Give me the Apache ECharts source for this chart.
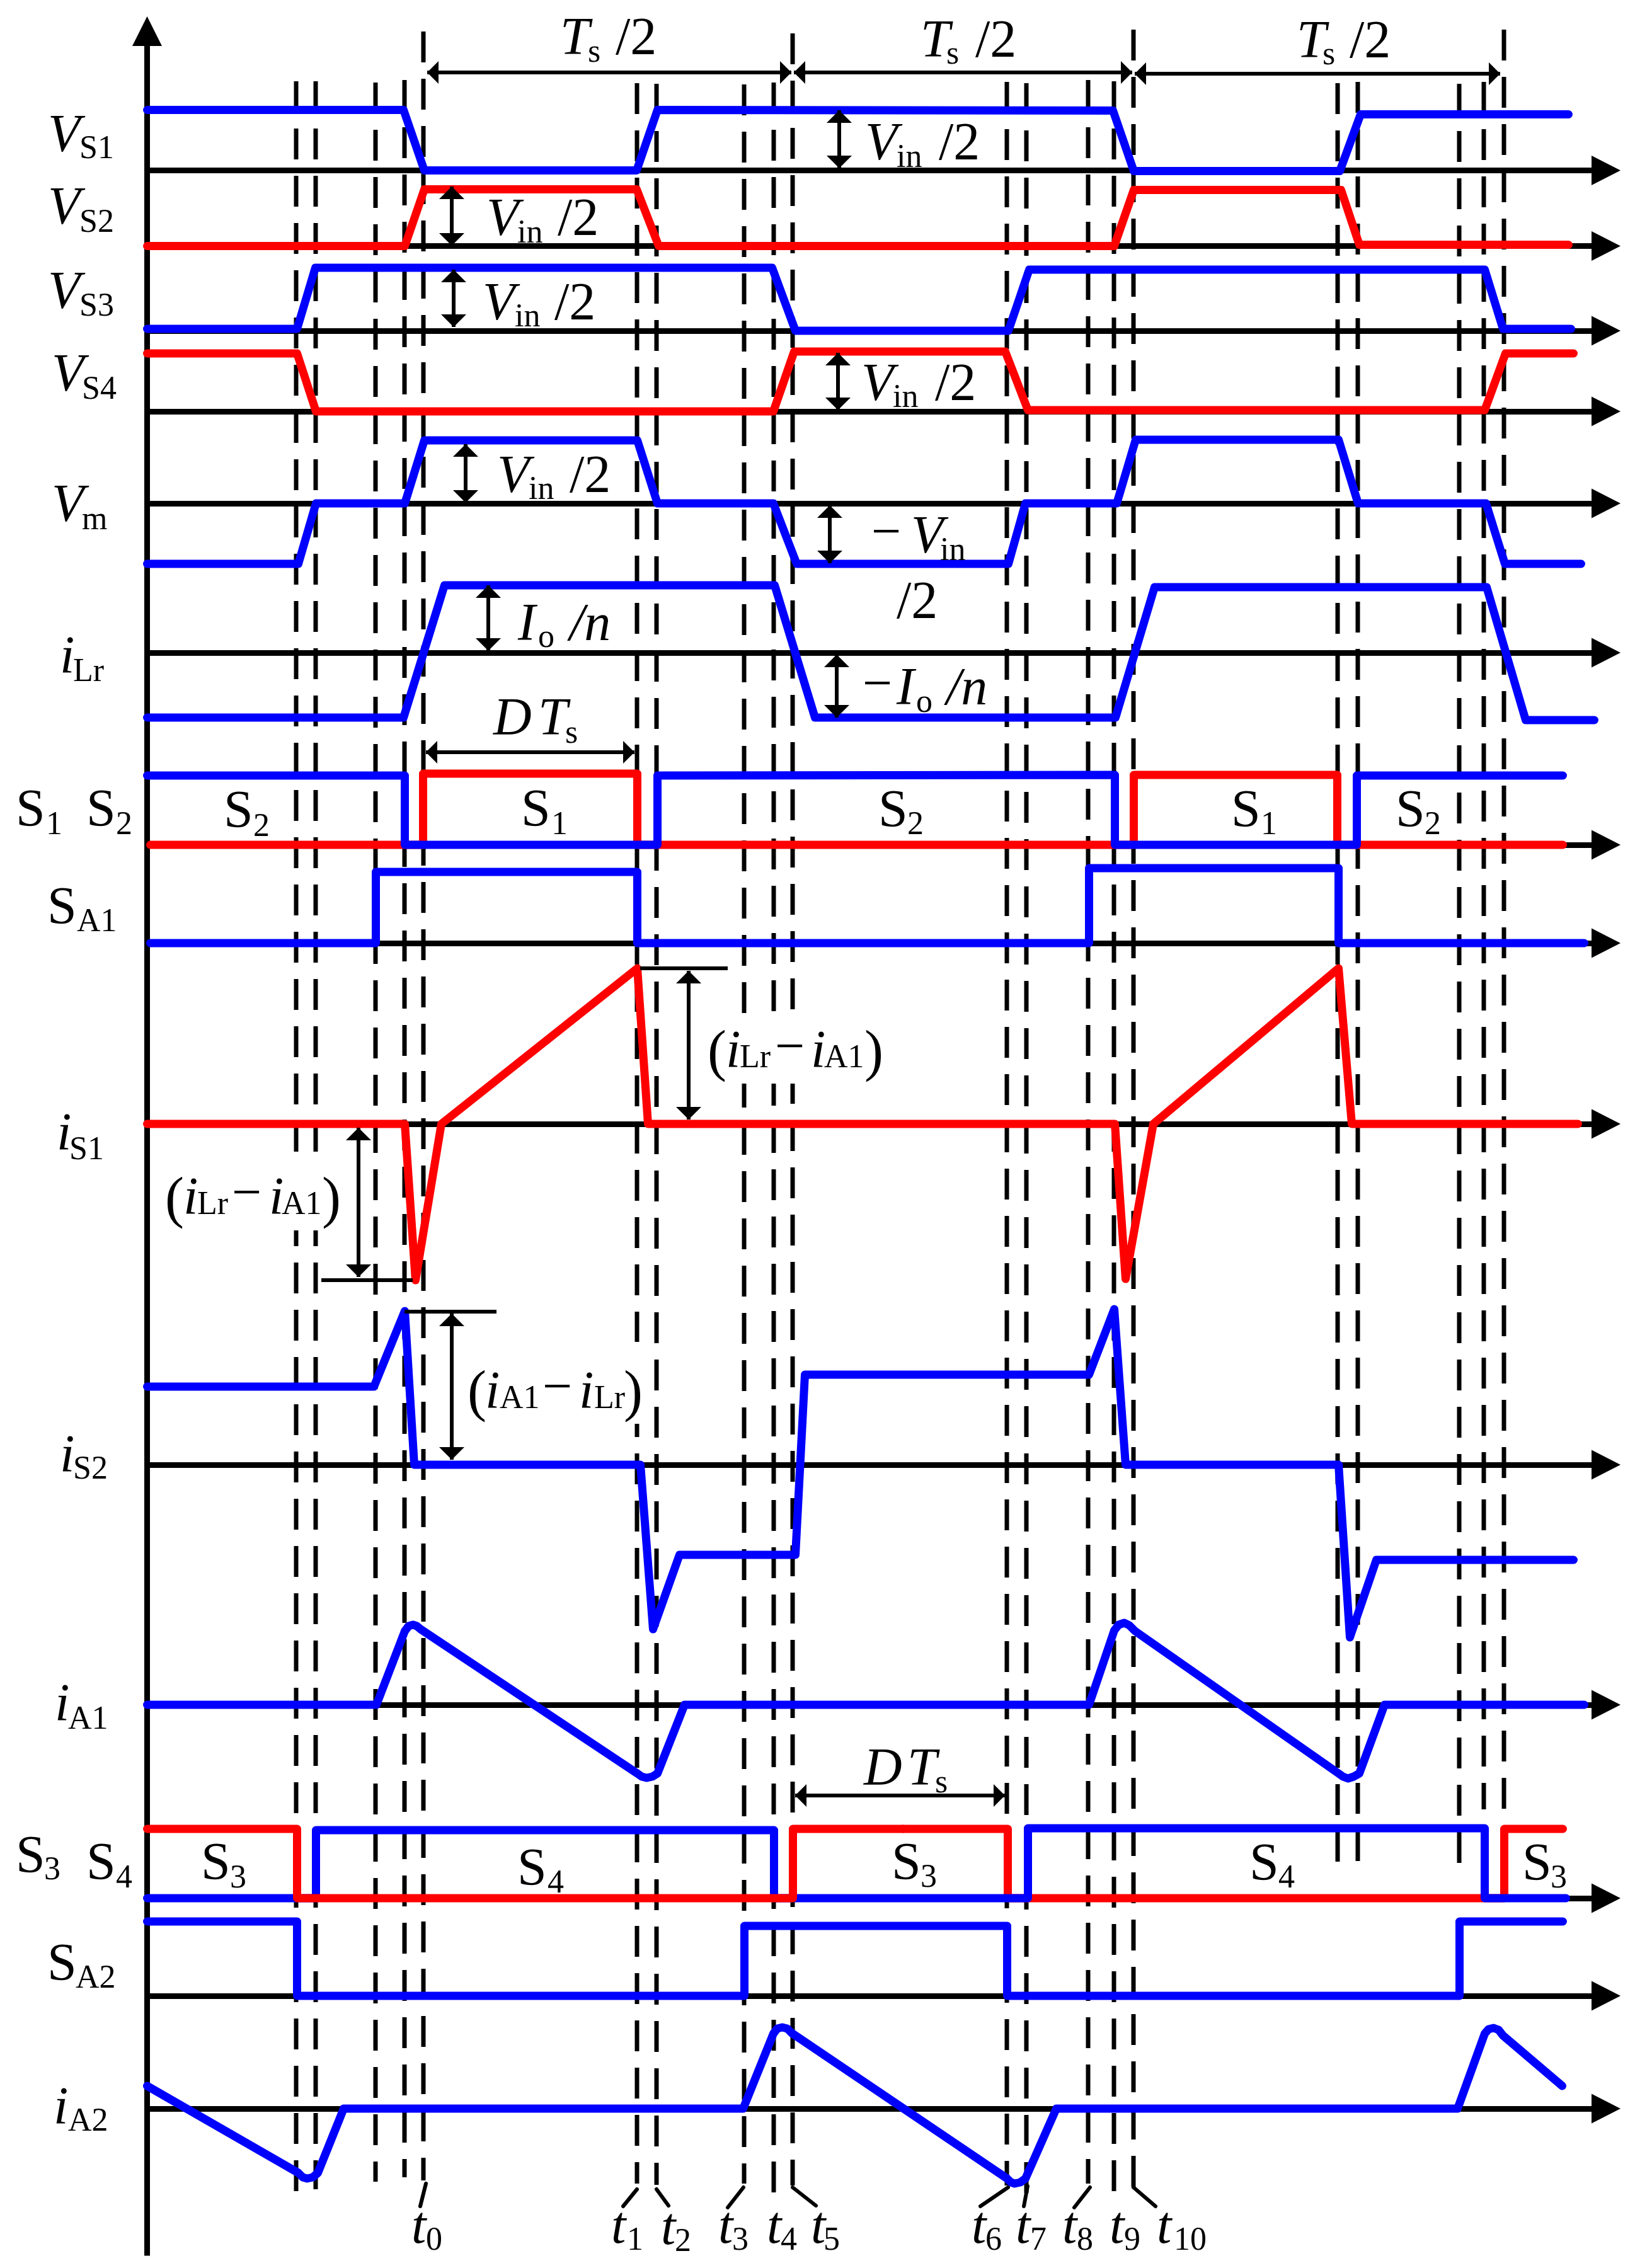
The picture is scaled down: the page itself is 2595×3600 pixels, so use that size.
<!DOCTYPE html>
<html><head><meta charset="utf-8">
<style>html,body{margin:0;padding:0;background:#fff}#c{width:2595px;height:3600px}</style>
<script src="https://cdn.jsdelivr.net/npm/echarts@6/dist/echarts.min.js"></script>
</head><body><div id="c"></div>
<script>
// ---- waveform values: [time, amplitude] ----
const vS1 = [[0,96],[407,96],[440,0],[777,0],[810,96],[1533,95],[1566,-1],[1893,-1],[1926,89],[2256,89]];
const vS2 = [[0,0],[409,0],[440,90],[777,90],[812,0],[1535,0],[1566,89],[1895,89],[1924,2],[2256,2]];
const vS3 = [[0,3],[238,3],[267,100],[992,100],[1029,0],[1367,0],[1400,97],[2123,97],[2152,3],[2260,3]];
const vS4 = [[0,92],[238,92],[268,0],[994,0],[1027,95],[1362,95],[1398,2],[2123,2],[2156,92],[2264,92]];
const vM = [[0,-96],[240,-96],[268,0],[409,0],[440,100],[778,100],[810,0],[994,0],[1031,-96],[1367,-96],[1394,0],[1539,0],[1569,101],[1891,101],[1922,0],[2125,0],[2155,-96],[2276,-96]];
const iLr = [[0,-103],[407,-103],[472,107],[996,107],[1060,-103],[1537,-103],[1599,104],[2126,104],[2188,-107],[2297,-107]];
const gateS1 = [[5,0],[438,0],[438,113],[778,113],[778,0],[1566,0],[1566,111],[1889,111],[1889,0],[2247,0]];
const gateS2 = [[0,110],[409,110],[409,0],[810,0],[810,110],[1536,111],[1536,0],[1920,0],[1920,110],[2247,110]];
const gateSA1 = [[5,0],[363,0],[363,113],[778,113],[778,0],[1495,0],[1495,119],[1891,119],[1891,0],[2281,0]];
const iS1 = [[0,0],[409,0],[426,-248],[467,0],[778,247],[795,0],[1536,0],[1553,-246],[1597,0],[1891,247],[1912,0],[2271,0]];
const iS2 = [[0,124],[360,124],[409,244],[424,0],[783,0],[803,-261],[845,-143],[1029,-143],[1044,143],[1495,143],[1535,247],[1553,0],[1891,0],[1909,-274],[1951,-151],[2264,-151]];
const iA1 = [[0,0],[364,0],[409,117],[415,125],[422,127],[428,125],[434,120],[778,-109],[785,-114],[793,-116],[802,-114],[810,-109],[853,0],[1495,0],[1535,118],[1542,127],[1551,130],[1559,126],[1568,117],[1891,-109],[1898,-114],[1906,-117],[1915,-114],[1924,-109],[1964,0],[2281,0]];
const gateS3Early = [[0,110],[238,110],[238,0],[1025,0],[1025,110],[1200,110]];
const gateS3Late = [[1200,110],[1366,110],[1366,0],[2154,0],[2154,110],[2247,110]];
const gateS4 = [[0,0],[268,0],[268,108],[995,108],[995,0],[1398,0],[1398,111],[2123,111],[2123,0],[2252,0]];
const gateSA2 = [[0,118],[238,118],[238,0],[948,0],[948,111],[1365,111],[1365,0],[2083,0],[2083,118],[2247,118]];
const iA2 = [[0,36],[240,-102],[247,-109],[254,-111],[263,-109],[271,-102],[312,0],[946,0],[994,119],[1000,127],[1008,129],[1016,127],[1023,120],[1365,-111],[1371,-117],[1377,-119],[1386,-117],[1394,-111],[1443,0],[2080,0],[2123,119],[2129,126],[2137,128],[2145,125],[2152,116],[2246,36]];

// ---- panel baselines on the sheet ----
const panelNames = ['VS1','VS2','VS3','VS4','Vm','iLr','S12','SA1','iS1','iS2','iA1','S34','SA2','iA2'];
const panelBaselines = [270.5,390.5,525,653,799,1036,1341,1497,1784,2325,2706,3013,3168,3347];

// ---- dashed time instants: [sheet x, top, bottom] ----
const instants = [[470,129,3478],[501,129,3475],[596,131,3463],[642,127,3456],[672,50,3461],[1011,132,3466],[1042,133,3468],[1181,134,3466],[1228,131,3504],[1258,53,3469],
 [1598,130,3469],[1629,132,3504],[1727,127,3466],[1768,129,3504],[1799,47,3472],[2123,132,2955],[2155,130,2954],[2316,133,2957],[2355,130,2872],[2387,47,2871]];
// ---- leader lines from instants to t labels: [x1,y1,x2,y2] ----
const leaders = [[676,3466,667,3502],[1011,3475,989,3502],[1042,3475,1061,3501],[1180,3472,1155,3504],[1258,3472,1295,3501],[1600,3472,1556,3502],[1631,3470,1625,3502],[1730,3472,1705,3504],[1799,3472,1834,3502]];
// ---- extent ticks: [x1,y,x2] ----
const extentTicks = [[1016,1537,1155],[510,2032,655],[642,2082,788]];
// ---- double arrows: [x1,y1,x2,y2] ----
const dimArrows = [[678,115,1256,115],[1260,115,1797,115],[1801,117,2381,117],[676,1194,1007,1194],[1262,2850,1595,2850],
 [717,296,717,390],[720,428,720,519],[739,705,739,798],[1332,175,1332,267],[1330,560,1330,651],[1317,802,1317,894],[775,929,775,1033],[1328,1039,1328,1139],
 [1093,1541,1093,1777],[569,1790,569,2027],[717,2085,717,2317]];
// ---- blank panels behind the bracketed formulas: [x1,y1,x2,y2] ----
const formulaBacks = [[1120,1608,1398,1720],[262,1828,535,1953],[740,2130,1016,2260]];

// ---- text runs: [text, style, sheet x, baseline y] ----
const texts = [
 ['V','i',76,241],['S1','s',126,252],['V','i',76,356],['S2','s',126,369],['V','i',76,490],['S3','s',126,502],['V','i',82,621],['S4','s',130,634],['V','i',82,828],['m','s',130,841],
 ['i','i',95,1069],['Lr','s',116,1082],['S','u',25,1312],['1','s',73,1325],['S','u',137,1312],['2','s',184,1325],['S','u',75,1467],['A1','s',122,1479],
 ['i','i',90,1826],['S1','s',110,1841],['i','i',95,2337],['S2','s',116,2348],['i','i',87,2732],['A1','s',108,2745],
 ['S','u',25,2973],['3','s',70,2984],['S','u',137,2984],['4','s',184,2997],['S','u',75,3144],['A2','s',120,3156],['i','i',85,3372],['A2','s',108,3383],
 ['S','u',355,1314],['2','s',402,1328],['S','u',827,1312],['1','s',875,1325],['S','u',1394,1313],['2','s',1440,1325],['S','u',1954,1313],['1','s',2001,1325],['S','u',2215,1313],['2','s',2261,1325],
 ['S','u',319,2984],['3','s',365,2997],['S','u',821,2993],['4','s',869,3005],['S','u',1415,2984],['3','s',1461,2996],['S','u',1983,2985],['4','s',2029,2997],['S','u',2416,2985],['3','s',2461,2997],
 ['T','i',889,87],['s','s',933,99],['/2','u',977,87],['T','i',1461,91],['s','s',1502,102],['/2','u',1548,91],['T','i',2058,92],['s','s',2099,103],['/2','u',2142,92],
 ['V','i',772,374],['in','s',821,386],['/2','u',885,374],['V','i',766,508],['in','s',817,519],['/2','u',880,508],['V','i',789,782],['in','s',839,793],['/2','u',904,782],
 ['V','i',1373,254],['in','s',1423,266],['/2','u',1490,254],['V','i',1367,636],['in','s',1417,647],['/2','u',1484,636],
 ['\u2212','u',1383,872],['V','i',1446,878],['in','s',1492,890],['/2','u',1423,982],
 ['I','i',822,1017],['o','s',854,1028],['/n','i',904,1017],['\u2212','u',1369,1113],['I','i',1423,1119],['o','s',1454,1131],['/n','i',1502,1119],
 ['D','i',783,1167],['T','i',854,1167],['s','s',897,1180],['D','i',1371,2834],['T','i',1440,2834],['s','s',1484,2846],
 ['(','p',1123,1699],['i','i',1152,1695],['Lr','s',1174,1695],['\u2212','u',1230,1689],['i','i',1287,1695],['A1','s',1308,1695],[')','p',1372,1699],
 ['(','p',262,1932],['i','i',291,1928],['Lr','s',313,1928],['\u2212','u',368,1921],['i','i',427,1928],['A1','s',447,1928],[')','p',511,1932],
 ['(','p',742,2239],['i','i',770,2236],['A1','s',793,2236],['\u2212','u',861,2229],['i','i',919,2236],['Lr','s',943,2236],[')','p',990,2239],
 ['t','i',653,3561],['0','s',676,3572],['t','i',970,3561],['1','s',995,3572],['t','i',1049,3563],['2','s',1071,3574],['t','i',1140,3561],['3','s',1162,3572],['t','i',1217,3561],['4','s',1239,3572],
 ['t','i',1287,3561],['5','s',1307,3572],['t','i',1542,3561],['6','s',1564,3572],['t','i',1612,3561],['7','s',1635,3572],['t','i',1686,3561],['8','s',1709,3572],['t','i',1761,3561],['9','s',1784,3572],['t','i',1836,3561],['10','s',1863,3572]
];

// ---- styling & layout ----
const BLUE='#0000ff', RED='#ff0000', FAMILY='"Liberation Serif"';
const styles = {i:['italic',84],u:['normal',84],s:['normal',52],p:['normal',90]};
const ORIGIN=233.5, ARROW_CENTER=2549, UP=260, DOWN=240;
const grids=[],xAxes=[],yAxes=[],series=[];
panelBaselines.forEach((b,i)=>{
  grids.push({left:ORIGIN,top:b-UP,width:ARROW_CENTER-ORIGIN,height:UP+DOWN});
  xAxes.push({gridIndex:i,type:'value',min:0,max:ARROW_CENTER-ORIGIN,axisTick:{show:false},axisLabel:{show:false},splitLine:{show:false},
    axisLine:{show:true,onZero:true,symbol:['none','triangle'],symbolSize:[47,46],lineStyle:{color:'#000',width:9,cap:'butt'}}});
  yAxes.push({gridIndex:i,type:'value',min:-DOWN,max:UP,show:false});
});
const P=panelNames.length;
// vertical axis panel
grids.push({left:ORIGIN,top:49.5,width:10,height:3531});
xAxes.push({gridIndex:P,type:'value',min:0,max:1,show:false});
yAxes.push({gridIndex:P,type:'value',min:0,max:1,position:'left',axisTick:{show:false},axisLabel:{show:false},splitLine:{show:false},
  axisLine:{show:true,onZero:false,symbol:['none','triangle'],symbolSize:[47,47],lineStyle:{color:'#000',width:9,cap:'butt'}}});
// sheet overlay for annotations
const S=P+1;
grids.push({left:0,top:0,width:2595,height:3600});
xAxes.push({gridIndex:S,type:'value',min:0,max:2595,show:false});
yAxes.push({gridIndex:S,type:'value',min:0,max:3600,inverse:true,show:false});

function sheetLine(pts,ls,z){series.push({type:'line',xAxisIndex:S,yAxisIndex:S,data:pts,symbol:'none',clip:false,silent:true,z:z,lineStyle:ls});}
instants.forEach(d=>sheetLine([[d[0],d[1]],[d[0],d[2]]],{color:'#000',width:7,type:[49,26],cap:'butt'},3));
leaders.forEach(d=>sheetLine([[d[0],d[1]],[d[2],d[3]]],{color:'#000',width:6,cap:'round'},3));
series.push({type:'custom',xAxisIndex:S,yAxisIndex:S,data:formulaBacks,z:4,silent:true,clip:false,encode:{x:[0,2],y:[1,3]},
  renderItem:function(p,api){
    const a=api.coord([api.value(0),api.value(1)]),b=api.coord([api.value(2),api.value(3)]);
    return {type:'rect',shape:{x:a[0],y:a[1],width:b[0]-a[0],height:b[1]-a[1]},style:{fill:'#fff'}};
  }});
function trace(name,data,color,z){const i=panelNames.indexOf(name);
  series.push({type:'line',xAxisIndex:i,yAxisIndex:i,data:data,symbol:'none',clip:false,silent:true,z:z||5,
    lineStyle:{color:color,width:13,cap:'round',join:'round'}});}
trace('VS1',vS1,BLUE);trace('VS2',vS2,RED);trace('VS3',vS3,BLUE);trace('VS4',vS4,RED);trace('Vm',vM,BLUE);trace('iLr',iLr,BLUE);
trace('S12',gateS1,RED);trace('S12',gateS2,BLUE);trace('SA1',gateSA1,BLUE);trace('iS1',iS1,RED);trace('iS2',iS2,BLUE);trace('iA1',iA1,BLUE);
trace('S34',gateS3Late,RED);trace('S34',gateS4,BLUE);trace('S34',gateS3Early,RED);trace('SA2',gateSA2,BLUE);trace('iA2',iA2,BLUE);
extentTicks.forEach(d=>sheetLine([[d[0],d[1]],[d[2],d[1]]],{color:'#000',width:6,cap:'butt'},6));

series.push({type:'custom',xAxisIndex:S,yAxisIndex:S,data:dimArrows,z:6,silent:true,clip:false,
  encode:{x:[0,2],y:[1,3]},
  renderItem:function(p,api){
    const a=api.coord([api.value(0),api.value(1)]),b=api.coord([api.value(2),api.value(3)]);
    const vertical=Math.abs(a[0]-b[0])<1;
    const L=vertical?20:18,W=vertical?40:36,lw=6;
    const ch=[{type:'line',shape:{x1:a[0],y1:a[1],x2:b[0],y2:b[1]},style:{stroke:'#000',lineWidth:lw,fill:null}}];
    if(vertical){
      ch.push({type:'polygon',shape:{points:[[a[0],a[1]],[a[0]-W/2,a[1]+L],[a[0]+W/2,a[1]+L]]},style:{fill:'#000'}});
      ch.push({type:'polygon',shape:{points:[[b[0],b[1]],[b[0]-W/2,b[1]-L],[b[0]+W/2,b[1]-L]]},style:{fill:'#000'}});
    }else{
      ch.push({type:'polygon',shape:{points:[[a[0],a[1]],[a[0]+L,a[1]-W/2],[a[0]+L,a[1]+W/2]]},style:{fill:'#000'}});
      ch.push({type:'polygon',shape:{points:[[b[0],b[1]],[b[0]-L,b[1]-W/2],[b[0]-L,b[1]+W/2]]},style:{fill:'#000'}});
    }
    return {type:'group',children:ch};
  }});
series.push({type:'custom',xAxisIndex:S,yAxisIndex:S,z:7,silent:true,clip:false,
  data:texts.map(t=>[t[2],t[3]]),encode:{x:0,y:1},
  renderItem:function(p,api){
    const t=texts[p.dataIndex],st=styles[t[1]],c=api.coord([api.value(0),api.value(1)]);
    return {type:'text',style:{text:t[0],x:c[0],y:c[1]-0.2725*st[1],align:'left',verticalAlign:'middle',
      font:st[0]+' '+st[1]+'px '+FAMILY,fill:'#000'}};
  }});

const chart=echarts.init(document.getElementById('c'),null,{renderer:'canvas',width:2595,height:3600});
chart.setOption({animation:false,backgroundColor:'#fff',grid:grids,xAxis:xAxes,yAxis:yAxes,series:series});
</script></body></html>
